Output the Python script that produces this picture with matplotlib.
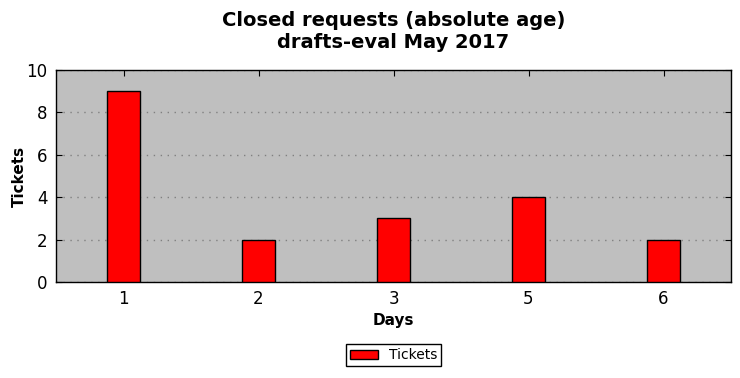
import matplotlib
matplotlib.use('Agg')
import matplotlib.pyplot as plt
import numpy as np

days = ['1', '2', '3', '5', '6']
tickets = [9, 2, 3, 4, 2]

fig = plt.figure(figsize=(7.4, 3.78), dpi=100)
ax = fig.add_axes([56 / 740, 1 - 282 / 378, 675 / 740, 212 / 378])

x = np.arange(len(days))
ax.bar(x, tickets, width=0.25, color='red', edgecolor='black', linewidth=1,
       label='Tickets', zorder=3)

ax.set_facecolor('#bfbfbf')
ax.set_xlim(-0.5, len(days) - 0.5)
ax.set_ylim(0, 10)
ax.set_xticks(x)
ax.set_xticklabels(days)
ax.set_yticks(range(0, 11, 2))
ax.tick_params(direction='in', top=True, right=True, labelsize=12, length=4, pad=6)
ax.yaxis.grid(True, linestyle=(0, (1, 4)), color='#808080', linewidth=1)
ax.set_axisbelow(True)
for s in ax.spines.values():
    s.set_linewidth(1)

ax.set_xlabel('Days', fontsize=11, fontweight='bold', labelpad=3)
ax.set_ylabel('Tickets', fontsize=11, fontweight='bold', labelpad=0)
ax.set_title('Closed requests (absolute age)\ndrafts-eval May 2017',
             fontsize=14, fontweight='bold', pad=16)

leg = ax.legend(loc='upper center', bbox_to_anchor=(0.5, -0.26), fontsize=10,
                fancybox=False, framealpha=1, edgecolor='black',
                handlelength=2, borderpad=0.3)
leg.get_frame().set_linewidth(1)

fig.savefig('out.png', dpi=100)
